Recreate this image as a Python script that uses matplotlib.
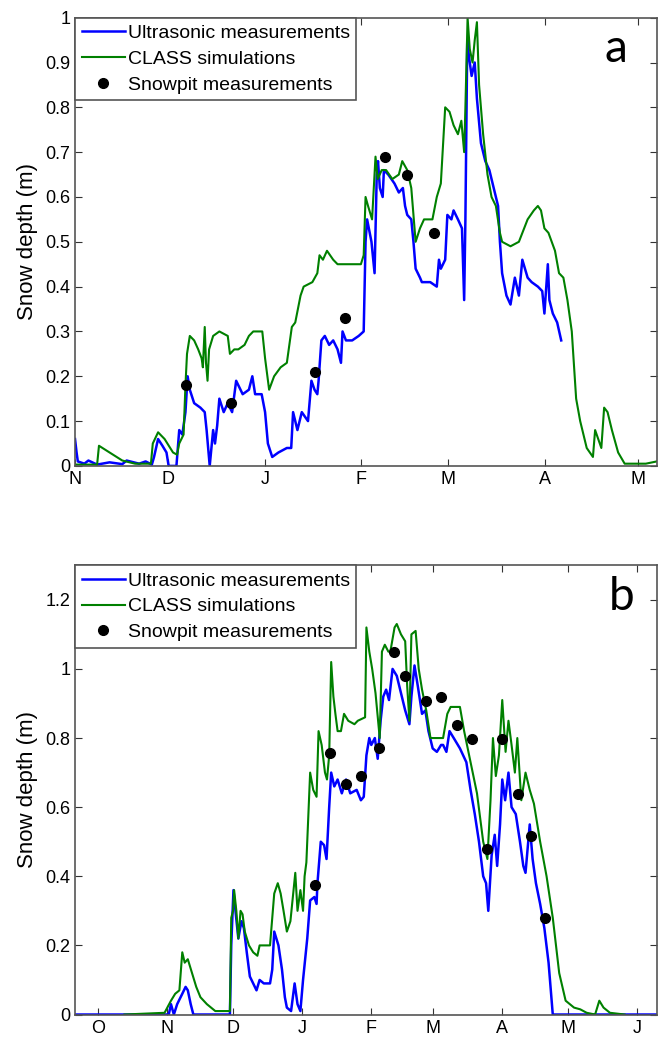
import numpy as np
import matplotlib
matplotlib.use('Agg')
import matplotlib.pyplot as plt

plt.rcParams['font.family'] = ['Liberation Sans', 'DejaVu Sans']

# ---- panel a : days since 1 Nov ----
a_months = ['N', 'D', 'J', 'F', 'M', 'A', 'M']
a_month_days = [0, 30, 61, 92, 120, 151, 181]

a_ultra_day = [0.0, 0.5, 0.9, 3.0, 4.3, 7.1, 11.1, 15.2, 16.6, 20.6, 22.7, 24.7, 25.4, 26.7, 28.1, 29.4, 30.1,
               32.6, 33.5, 34.5, 35.5, 36.2, 36.9, 38.3, 40.3, 41.7, 42.3, 43.3, 44.4, 45.0, 45.7, 46.4, 47.8,
               49.1, 50.5, 51.8, 53.9, 55.9, 57.0, 57.9, 60.0, 61.1, 62.0, 63.4, 65.4, 68.1, 69.5, 70.1, 71.5,
               72.9, 74.9, 76.0, 77.0, 77.9, 78.3, 79.2, 80.3, 81.7, 83.0, 84.4, 85.5, 86.0, 87.1, 89.1, 91.2,
               92.8, 93.4, 93.9, 95.3, 96.3, 97.0, 97.4, 98.0, 98.9, 99.3, 100.7, 102.7, 104.1, 105.4, 106.1,
               106.8, 108.1, 108.8, 109.5, 110.9, 111.5, 114.2, 116.3, 117.0, 117.6, 119.0, 119.7, 121.0, 121.7,
               123.1, 124.4, 125.1, 125.5, 126.1, 126.7, 127.5, 128.5, 129.2, 130.5, 131.9, 133.2, 134.6, 136.0,
               136.6, 137.3, 138.7, 140.0, 141.4, 142.7, 143.8, 145.5, 146.8, 148.8, 150.2, 150.9, 152.0, 152.5,
               153.6, 155.0, 156.3]
a_ultra_val = [0.06, 0.03, 0.01, 0.005, 0.012, 0.003, 0.008, 0.004, 0.012, 0.005, 0.01, 0.003, 0.02, 0.06, 0.045,
               0.03, 0.0, 0.0, 0.08, 0.07, 0.12, 0.2, 0.17, 0.14, 0.13, 0.12, 0.08, 0.0, 0.08, 0.05, 0.09, 0.15,
               0.12, 0.14, 0.12, 0.19, 0.16, 0.17, 0.2, 0.16, 0.16, 0.12, 0.05, 0.02, 0.03, 0.04, 0.04, 0.12, 0.08,
               0.12, 0.1, 0.19, 0.17, 0.16, 0.19, 0.28, 0.29, 0.27, 0.28, 0.26, 0.23, 0.30, 0.28, 0.28, 0.29,
               0.3, 0.5, 0.55, 0.5, 0.43, 0.65, 0.68, 0.62, 0.6, 0.66, 0.65, 0.63, 0.61, 0.62, 0.58,
               0.56, 0.55, 0.5, 0.44, 0.42, 0.41, 0.41, 0.40, 0.46, 0.44, 0.46, 0.56, 0.55, 0.57,
               0.55, 0.53, 0.37, 0.55, 0.95, 0.91, 0.87, 0.9, 0.82, 0.72, 0.68, 0.66, 0.62, 0.58,
               0.5, 0.43, 0.38, 0.36, 0.42, 0.38, 0.46, 0.42, 0.41, 0.40, 0.39, 0.34, 0.45, 0.37,
               0.34, 0.32, 0.28]

a_class_day = [0.0, 7.1, 7.7, 11.1, 15.2, 19.3, 24.4, 25.0, 26.7, 28.8, 31.5, 32.8, 33.5, 34.9, 35.5, 36.0, 36.9,
               38.3, 39.6, 40.7, 41.1, 41.7, 42.1, 42.6, 43.1, 44.4, 46.4, 49.1, 49.8, 51.2, 52.5, 54.5, 55.9,
               57.3, 60.2, 61.1, 62.4, 64.0, 66.1, 68.1, 69.7, 70.8, 72.5, 73.5, 76.3, 77.9, 78.6, 79.7, 81.0,
               83.0, 84.4, 91.9, 92.8, 93.4, 94.2, 95.5, 96.6, 97.3, 98.6, 100.0, 102.0, 104.1, 105.2, 106.8,
               108.1, 109.5, 110.9, 112.2, 114.9, 116.3, 117.6, 119.0, 120.4, 121.7, 123.1, 124.2, 125.1, 125.5,
               126.2, 126.9, 127.8, 128.5, 129.2, 129.9, 131.2, 132.6, 133.9, 135.3, 136.6, 137.3, 140.0, 142.7,
               145.5, 147.5, 148.8, 149.8, 150.9, 152.2, 154.3, 155.6, 157.0, 158.3, 159.7, 161.1, 162.4, 164.5,
               166.5, 167.2, 168.2, 169.2, 170.1, 171.2, 172.6, 174.6, 176.7, 183.5, 187.0]
a_class_val = [0.003, 0.003, 0.045, 0.03, 0.012, 0.005, 0.005, 0.05, 0.075, 0.06, 0.03, 0.025, 0.05, 0.07, 0.18,
               0.25, 0.29, 0.28, 0.26, 0.24, 0.22, 0.31, 0.23, 0.19, 0.26, 0.29, 0.30, 0.29, 0.25, 0.26, 0.26,
               0.27, 0.29, 0.30, 0.30, 0.24, 0.17, 0.20, 0.22, 0.23, 0.31, 0.32, 0.38, 0.40, 0.41, 0.43, 0.47,
               0.46, 0.48, 0.46, 0.45, 0.45, 0.47, 0.60, 0.58, 0.55, 0.69, 0.64, 0.66, 0.66, 0.64, 0.65, 0.68,
               0.66, 0.62, 0.50, 0.53, 0.55, 0.55, 0.60, 0.63, 0.80, 0.79, 0.76, 0.74, 0.77, 0.70, 0.80, 1.0,
               0.93, 0.90, 0.95, 0.99, 0.85, 0.74, 0.65, 0.60, 0.58, 0.52, 0.50, 0.49, 0.50, 0.55, 0.57, 0.58,
               0.57, 0.53, 0.52, 0.48, 0.43, 0.42, 0.37, 0.30, 0.15, 0.10, 0.04, 0.02, 0.08, 0.06, 0.04, 0.13,
               0.12, 0.08, 0.03, 0.005, 0.005, 0.01]

a_pit_day = [35.8, 50.2, 77.0, 86.7, 99.8, 106.8, 115.4]
a_pit_val = [0.18, 0.14, 0.21, 0.33, 0.69, 0.65, 0.52]

# ---- panel b : days since 1 Oct ----
b_months = ['O', 'N', 'D', 'J', 'F', 'M', 'A', 'M', 'J']
b_month_days = [0, 31, 61, 92, 123, 151, 182, 212, 243]

b_ultra_day = [-10.5, 31.8, 32.8, 34.1, 35.6, 37.9, 39.4, 40.4, 41.7, 42.9, 59.4, 60.0, 61.0, 61.9, 63.2, 64.6,
               65.7, 67.0, 68.4, 69.9, 71.4, 72.8, 74.7, 77.5, 78.5, 79.4, 81.3, 82.9, 84.2, 85.1, 87.0, 88.6,
               89.9, 91.2, 92.4, 94.3, 95.6, 97.5, 98.5, 98.9, 100.4, 101.9, 103.0, 104.2, 105.1, 106.5, 108.0,
               109.9, 111.8, 113.7, 116.6, 118.5, 119.8, 121.0, 122.3, 123.2, 124.8, 126.1, 127.4, 128.6, 129.9,
               131.2, 132.8, 134.7, 136.6, 138.5, 140.4, 141.3, 142.7, 144.2, 146.1, 147.6, 149.0, 150.9, 152.8,
               154.7, 155.6, 157.1, 158.5, 160.4, 163.2, 166.1, 168.0, 169.9, 171.8, 173.7, 175.0, 176.0, 177.5,
               178.9, 180.0, 181.3, 182.3, 183.6, 185.1, 186.5, 188.4, 190.3, 191.8, 192.8, 194.7, 196.0, 197.5,
               199.4, 201.3, 203.2, 205.1, 252.0]
b_ultra_val = [0.0, 0.0, 0.03, 0.0, 0.03, 0.06, 0.08, 0.07, 0.03, 0.0, 0.0, 0.2, 0.36, 0.30, 0.22, 0.27,
               0.25, 0.18, 0.11, 0.09, 0.07, 0.10, 0.09, 0.09, 0.13, 0.24, 0.20, 0.13, 0.05, 0.02, 0.01, 0.09,
               0.03, 0.01, 0.10, 0.22, 0.33, 0.34, 0.32, 0.38, 0.50, 0.49, 0.45, 0.60, 0.70, 0.66, 0.68,
               0.64, 0.68, 0.64, 0.65, 0.62, 0.63, 0.75, 0.80, 0.78, 0.80, 0.74, 0.85, 0.92, 0.94,
               0.91, 1.00, 0.98, 0.93, 0.88, 0.84, 0.92, 1.01, 0.95, 0.87, 0.88, 0.82, 0.77, 0.76,
               0.78, 0.78, 0.76, 0.82, 0.80, 0.77, 0.73, 0.65, 0.58, 0.50, 0.40, 0.38, 0.30, 0.46,
               0.52, 0.43, 0.55, 0.68, 0.62, 0.70, 0.60, 0.58, 0.50, 0.43, 0.41, 0.55, 0.45, 0.38,
               0.32, 0.25, 0.15, 0.0, 0.0]

b_class_day = [11.8, 29.9, 32.8, 34.7, 36.6, 37.9, 39.0, 40.4, 42.3, 44.2, 46.1, 49.0, 52.8, 59.4, 60.0, 60.8,
               61.3, 62.3, 63.2, 64.2, 65.1, 66.1, 68.0, 69.9, 71.8, 72.8, 77.5, 79.4, 81.0, 82.3, 83.6, 85.1,
               86.7, 88.9, 89.9, 91.2, 92.4, 93.1, 93.9, 95.6, 97.0, 98.5, 99.4, 100.8, 102.3, 103.2, 104.2,
               105.1, 106.1, 107.0, 108.0, 109.5, 110.9, 112.8, 115.6, 117.1, 120.4, 121.0, 122.3, 123.6, 125.1,
               127.0, 128.0, 129.3, 130.9, 131.8, 133.7, 134.7, 136.6, 138.5, 139.4, 140.4, 141.3, 143.2, 144.6,
               146.1, 148.0, 149.9, 152.8, 155.6, 157.5, 159.0, 163.2, 165.1, 168.0, 170.9, 173.7, 175.6, 177.0,
               178.1, 179.4, 180.8, 182.3, 183.8, 185.1, 186.5, 188.0, 189.1, 190.9, 192.8, 194.7, 196.6, 199.4,
               202.3, 205.1, 208.0, 210.9, 214.7, 217.5, 220.4, 224.2, 226.1, 228.0, 230.9, 237.5]
b_class_val = [0.0, 0.005, 0.04, 0.06, 0.07, 0.18, 0.15, 0.16, 0.12, 0.08, 0.05, 0.03, 0.01, 0.01, 0.28, 0.30,
               0.36, 0.30, 0.22, 0.30, 0.29, 0.24, 0.20, 0.18, 0.17, 0.20, 0.20, 0.35, 0.38, 0.35, 0.30, 0.24,
               0.27, 0.41, 0.30, 0.36, 0.30, 0.40, 0.44, 0.70, 0.65, 0.63, 0.82, 0.78, 0.70, 0.68, 0.75,
               1.02, 0.92, 0.87, 0.82, 0.82, 0.87, 0.85, 0.84, 0.85, 0.86, 1.12, 1.05, 1.00, 0.93,
               0.80, 1.05, 1.07, 1.05, 1.05, 1.12, 1.13, 1.10, 1.08, 0.95, 0.85, 1.10, 1.11, 1.00,
               0.94, 0.88, 0.80, 0.80, 0.80, 0.87, 0.89, 0.89, 0.82, 0.73, 0.64, 0.50, 0.45, 0.62,
               0.80, 0.69, 0.75, 0.91, 0.76, 0.85, 0.78, 0.70, 0.80, 0.62, 0.70, 0.65, 0.61, 0.50,
               0.40, 0.28, 0.12, 0.04, 0.02, 0.015, 0.005, 0.0, 0.04, 0.02, 0.005, 0.0]

b_pit_day = [97.7, 104.6, 111.8, 118.5, 126.7, 133.3, 138.5, 148.0, 154.7, 161.7, 168.6, 175.6, 182.3, 189.5,
             195.2, 201.7]
b_pit_val = [0.376, 0.757, 0.668, 0.69, 0.77, 1.048, 0.979, 0.907, 0.919, 0.837, 0.797, 0.479, 0.797, 0.638,
             0.517, 0.279]

blue = '#0000ff'
green = '#008000'


def panel(ax, ud, uv, cd, cv, pd, pv, mdays, mlabels, xlim, ylim, yticks, ylabels, letter, lx):
    ax.plot(ud, uv, color=blue, lw=1.8, label='Ultrasonic measurements')
    ax.plot(cd, cv, color=green, lw=1.5, label='CLASS simulations')
    ax.plot(pd, pv, 'o', color='k', ms=7, label='Snowpit measurements')
    ax.set_xlim(xlim)
    ax.set_ylim(ylim)
    ax.set_xticks(mdays)
    ax.set_xticklabels(mlabels)
    ax.set_yticks(yticks)
    ax.set_yticklabels(ylabels)
    ax.tick_params(direction='in', top=True, right=True, length=5, labelsize=13, color='#333333')
    ax.tick_params(axis='x', pad=4)
    for s in ax.spines.values():
        s.set_color('#555555')
        s.set_linewidth(1.2)
    ax.set_ylabel('Snow depth (m)', fontsize=16, labelpad=5)
    l = ax.legend(loc='upper left', borderaxespad=0, fontsize=14, frameon=True, fancybox=False,
                  handlelength=2.2, handletextpad=0.15, labelspacing=0.42, borderpad=0.35,
                  edgecolor='#555555', framealpha=1)
    l.get_frame().set_linewidth(1.2)
    l.set_zorder(20)
    ax.text(lx, 0.93, letter, transform=ax.transAxes, fontsize=33, family='Lato',
            ha='center', va='center')


fig = plt.figure(figsize=(6.61, 10.4), dpi=100)
ax1 = fig.add_axes([0.1135, 0.552, 0.880, 0.431])
ax2 = fig.add_axes([0.1135, 0.0245, 0.880, 0.432])

panel(ax1, a_ultra_day, a_ultra_val, a_class_day, a_class_val, a_pit_day, a_pit_val,
      a_month_days, a_months, (0, 187), (0, 1), np.arange(0, 1.01, 0.1),
      ['0', '0.1', '0.2', '0.3', '0.4', '0.5', '0.6', '0.7', '0.8', '0.9', '1'], 'a', 0.93)
panel(ax2, b_ultra_day, b_ultra_val, b_class_day, b_class_val, b_pit_day, b_pit_val,
      b_month_days, b_months, (-10.5, 252), (0, 1.3), np.arange(0, 1.21, 0.2),
      ['0', '0.2', '0.4', '0.6', '0.8', '1', '1.2'], 'b', 0.94)

fig.savefig('out.png', dpi=100)
